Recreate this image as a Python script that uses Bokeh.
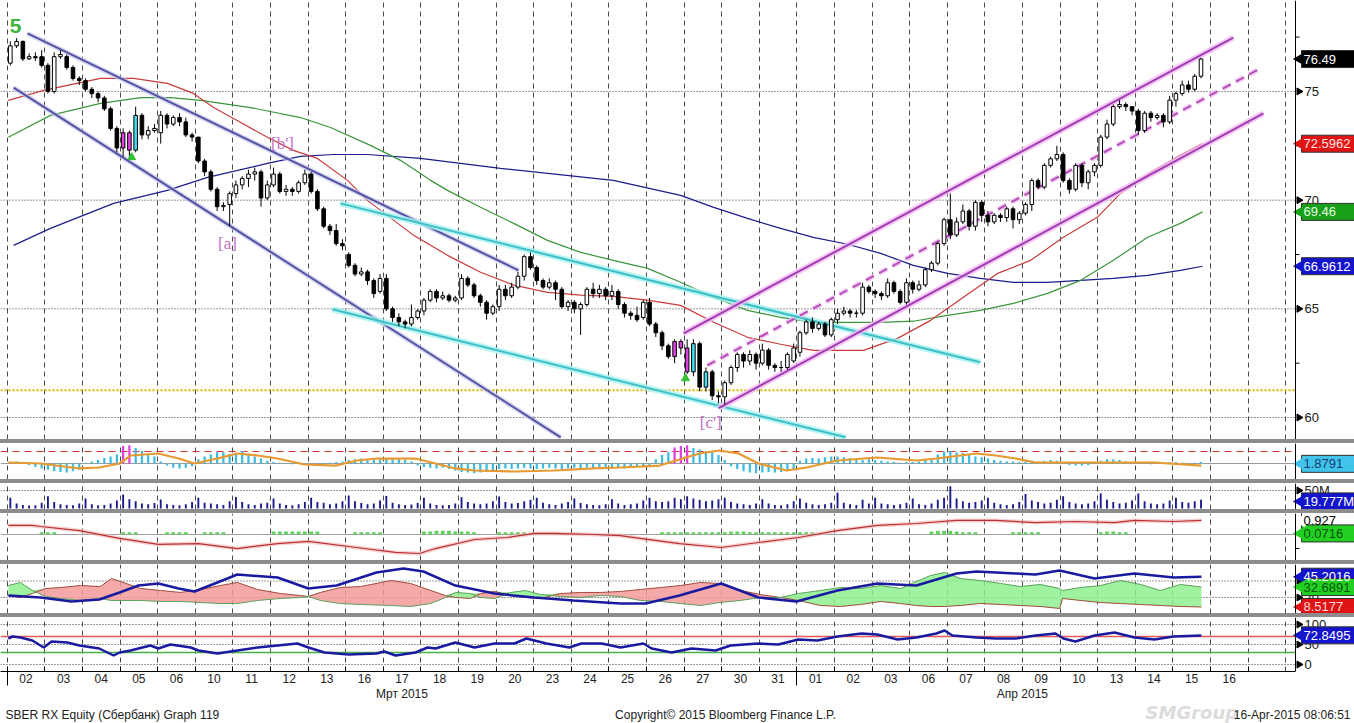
import numpy as np
from bokeh.plotting import figure
from bokeh.models import Range1d, FixedTicker, LinearAxis, Span, Spacer
from bokeh.layouts import column
from bokeh.embed import file_html
from bokeh.resources import INLINE
from bokeh.core.properties import value

FONT = "Liberation Sans"

# ---------------- axis labels ----------------
day_labels = ["02", "03", "04", "05", "06", "10", "11", "12", "13", "16", "17", "18", "19", "20",
              "23", "24", "25", "26", "27", "30", "31",
              "01", "02", "03", "06", "07", "08", "09", "10", "13", "14", "15", "16"]
month_labels = ["Мрт 2015", "Апр 2015"]
month_centers = [10.5, 27.0]
month_bounds = [0.0, 21.0]
price_ticks = [60, 65, 70, 75]
price_tick_labels = ["60", "65", "70", "75"]
price_minor = [62.5, 67.5, 72.5, 77.5]
BARS_PER_DAY = 6

# ---------------- hourly candles (6 bars per trading day) ----------------
opens = [
    76.3, 77.1, 77.3, 76.5, 76.6, 76.6,
    76.2, 75.0, 76.6, 76.6, 76.1, 75.6,
    75.5, 75.1, 74.9, 74.7, 74.2, 73.3,
    72.4, 73.1, 72.3, 73.9, 73.0, 73.2,
    73.1, 73.9, 73.5, 73.8, 73.6, 73.0,
    72.9, 71.8, 71.3, 70.5, 69.7, 69.8,
    70.3, 70.7, 71.0, 71.2, 71.3, 70.1,
    70.7, 71.2, 70.4, 70.5, 70.4, 70.8,
    71.2, 70.4, 69.6, 68.8, 68.6, 68.0,
    67.5, 67.0, 66.6, 66.7, 66.3, 65.8,
    66.4, 65.0, 64.6, 64.4, 64.3, 64.6,
    64.9, 65.4, 65.8, 65.5, 65.6, 65.4,
    65.5, 66.4, 66.1, 65.6, 65.3, 64.8,
    65.1, 65.9, 65.6, 66.0, 66.5, 67.4,
    66.9, 66.3, 66.0, 66.2, 65.9, 65.1,
    65.3, 65.0, 65.2, 65.9, 65.7, 65.9,
    65.6, 65.8, 65.2, 64.8, 64.7, 64.6,
    65.3, 64.3, 63.9, 63.3, 62.8, 63.5,
    63.2, 62.1, 63.4, 61.4, 62.1, 61.0,
    60.95, 61.6, 62.3, 62.9, 62.6, 62.9,
    62.5, 63.1, 62.4, 62.3, 62.3, 62.6,
    63.0, 63.9, 64.4, 64.1, 64.3, 63.8,
    64.5, 64.8, 64.9, 64.8, 64.8, 66.0,
    65.8, 65.7, 65.6, 66.2, 65.8, 65.3,
    66.2, 65.9, 66.1, 66.8, 67.1, 68.0,
    69.1, 68.4, 69.0, 69.5, 68.8, 69.9,
    69.3, 69.0, 69.3, 69.2, 69.6, 69.1,
    69.4, 69.8, 70.9, 70.6, 71.6, 71.9,
    72.1, 70.9, 70.5, 71.6, 70.8, 71.3,
    71.6, 72.9, 73.5, 74.3, 74.4, 74.3,
    74.1, 73.2, 74.0, 73.8, 73.9, 73.6,
    74.6, 74.9, 75.3, 75.1, 75.7,
]
closes = [
    77.1, 77.3, 76.5, 76.6, 76.55, 76.2,
    75.0, 76.6, 76.7, 76.1, 75.6, 75.5,
    75.1, 74.9, 74.7, 74.2, 73.3, 72.4,
    73.1, 72.3, 73.9, 73.0, 73.2, 73.3,
    73.9, 73.5, 73.8, 73.6, 73.0, 72.9,
    71.8, 71.3, 70.5, 69.7, 69.75, 70.3,
    70.7, 71.0, 71.2, 71.3, 70.1, 70.7,
    71.2, 70.4, 70.5, 70.4, 70.8, 71.2,
    70.4, 69.6, 68.8, 68.6, 68.0, 67.9,
    67.0, 66.6, 66.7, 66.3, 65.7, 66.4,
    65.0, 64.6, 64.4, 64.3, 64.6, 64.9,
    65.4, 65.8, 65.5, 65.6, 65.4, 65.5,
    66.4, 66.1, 65.6, 65.3, 64.8, 65.1,
    65.9, 65.6, 66.0, 66.5, 67.4, 66.9,
    66.3, 66.0, 66.2, 65.9, 65.1, 65.3,
    65.0, 65.2, 65.9, 65.7, 65.9, 65.6,
    65.8, 65.2, 64.8, 64.7, 64.5, 65.3,
    64.3, 63.9, 63.3, 62.8, 63.5, 63.2,
    62.1, 63.4, 61.4, 62.1, 61.0, 60.95,
    61.6, 62.3, 62.9, 62.6, 62.9, 62.5,
    63.1, 62.4, 62.3, 62.3, 62.9, 63.2,
    63.9, 64.4, 64.1, 64.3, 63.8, 64.5,
    64.8, 64.9, 64.8, 64.8, 66.0, 65.8,
    65.7, 65.6, 66.2, 65.8, 65.3, 66.2,
    65.9, 66.1, 66.8, 67.1, 68.0, 69.1,
    68.4, 69.0, 69.5, 68.8, 69.9, 69.3,
    69.0, 69.3, 69.2, 69.6, 69.1, 69.4,
    69.8, 70.9, 70.6, 71.6, 71.9, 72.1,
    70.9, 70.5, 71.6, 70.8, 71.3, 71.6,
    72.9, 73.5, 74.3, 74.4, 74.3, 74.1,
    73.2, 74.0, 73.8, 73.9, 73.6, 74.6,
    74.9, 75.3, 75.1, 75.7, 76.49,
]
highs = [
    77.3, 77.45, 77.35, 76.75, 76.8, 76.9,
    76.3, 76.8, 76.9, 76.7, 76.2, 75.7,
    75.6, 75.2, 75.0, 74.8, 74.3, 73.4,
    73.3, 73.2, 74.3, 74.0, 73.4, 73.5,
    74.1, 74.0, 73.9, 74.0, 73.8, 73.1,
    72.9, 71.9, 71.4, 70.6, 69.9, 70.4,
    70.9, 71.1, 71.4, 71.5, 71.4, 70.9,
    71.5, 71.3, 70.7, 70.6, 70.9, 71.4,
    71.3, 70.5, 69.7, 68.9, 68.9, 68.2,
    67.6, 67.1, 66.9, 66.8, 66.4, 66.6,
    66.6, 65.1, 64.8, 64.5, 65.2, 65.0,
    65.5, 65.9, 65.9, 65.8, 65.7, 65.6,
    66.6, 66.5, 66.2, 65.7, 65.4, 65.2,
    66.1, 66.1, 66.2, 66.7, 67.5, 67.6,
    67.0, 66.4, 66.4, 66.3, 66.0, 65.4,
    65.4, 65.3, 66.0, 66.2, 66.1, 66.0,
    66.1, 65.9, 65.3, 64.9, 65.1, 65.4,
    65.5, 64.4, 64.0, 63.4, 63.6, 63.6,
    63.6, 63.6, 63.5, 62.3, 62.2, 61.2,
    61.7, 62.4, 63.0, 63.0, 63.1, 63.0,
    63.4, 63.2, 62.5, 62.6, 63.0, 63.4,
    64.0, 64.5, 64.6, 64.4, 64.4, 64.6,
    65.0, 65.1, 65.0, 64.95, 66.2, 66.1,
    65.9, 65.8, 66.4, 66.3, 65.9, 66.4,
    66.3, 66.3, 66.9, 67.2, 68.1, 69.2,
    70.3, 69.2, 69.8, 69.6, 70.0, 70.0,
    69.5, 69.4, 69.4, 69.7, 69.7, 69.5,
    69.9, 71.0, 71.0, 71.7, 72.0, 72.5,
    72.2, 71.0, 71.7, 71.7, 71.4, 71.7,
    73.0, 73.7, 74.4, 74.6, 74.5, 74.3,
    74.2, 74.1, 74.1, 74.0, 74.0, 74.8,
    75.0, 75.5, 75.5, 75.8, 76.55,
]
lows = [
    76.2, 77.0, 76.4, 76.45, 76.4, 76.1,
    74.9, 74.9, 76.5, 76.0, 75.5, 75.3,
    75.0, 74.7, 74.5, 74.1, 73.2, 72.2,
    72.0, 72.0, 72.2, 72.8, 72.8, 73.1,
    72.6, 73.3, 73.4, 73.4, 72.9, 72.7,
    71.7, 71.1, 70.4, 69.5, 69.5, 68.8,
    70.1, 70.5, 70.6, 70.9, 69.7, 70.0,
    70.6, 70.3, 70.2, 70.2, 70.3, 70.7,
    70.3, 69.5, 68.7, 68.4, 67.9, 67.7,
    66.9, 66.5, 66.5, 66.1, 65.5, 65.7,
    64.9, 64.4, 64.2, 64.1, 64.2, 64.5,
    64.7, 65.3, 65.3, 65.4, 65.3, 65.3,
    65.4, 66.0, 65.5, 65.1, 64.5, 64.7,
    64.9, 65.4, 65.5, 65.9, 66.3, 66.8,
    66.1, 65.9, 65.9, 65.4, 65.0, 64.9,
    64.8, 63.8, 65.1, 65.5, 65.5, 65.4,
    65.4, 65.0, 64.6, 64.5, 64.4, 64.5,
    64.2, 63.7, 63.1, 62.7, 62.5, 62.9,
    62.0, 61.9, 61.2, 61.2, 60.8, 60.65,
    60.6, 61.5, 62.1, 62.3, 62.4, 62.2,
    62.4, 62.2, 62.1, 62.1, 62.2, 62.5,
    62.8, 63.8, 63.9, 64.0, 63.7, 63.7,
    64.3, 64.7, 64.6, 64.6, 64.7, 65.7,
    65.5, 65.4, 65.5, 65.7, 65.2, 65.2,
    65.7, 65.8, 66.0, 66.7, 67.0, 67.9,
    68.2, 68.3, 68.9, 68.6, 68.6, 69.0,
    68.8, 68.9, 69.0, 69.0, 68.7, 68.9,
    69.3, 69.5, 70.5, 70.5, 71.5, 71.8,
    70.8, 70.3, 70.4, 70.6, 70.5, 71.1,
    71.5, 72.8, 73.4, 74.2, 74.1, 73.9,
    73.0, 73.1, 73.6, 73.7, 73.35, 73.5,
    74.3, 74.8, 74.95, 75.0, 75.6,
]
magenta_bars = [18, 19, 106, 107, 108]
cyan_bars = [20, 109, 111]

# ---------------- moving averages (day, price) ----------------
ma_red_x = [0.03, 0.97, 1.95, 2.48, 3.36, 4.26, 4.95, 5.49, 6.02, 6.92, 7.61, 8.25, 9.05, 9.58, 9.93,
            10.81, 11.71, 12.59, 13.47, 14.37, 15.25, 16.12, 17.03, 17.91, 18.79, 19.69, 20.57, 21.44,
            22.77, 23.68, 24.56, 25.43, 26.34, 27.22, 28.09, 28.99, 29.61, 30.41, 31.2, 31.79]
ma_red_y = [74.59, 75.05, 75.41, 75.6, 75.6, 75.37, 74.91, 74.26, 73.76, 72.89, 72.29, 71.92, 70.91, 69.99,
            69.53, 68.38, 67.46, 66.68, 66.09, 65.76, 65.63, 65.57, 65.4, 65.16, 64.38, 63.69, 63.37, 63.09,
            63.09, 63.64, 64.47, 65.53, 66.63, 67.23, 68.29, 69.21, 70.31, 71.28, 72.06, 72.6]
ma_green_x = [0.03, 1.15, 2.48, 3.55, 4.34, 5.15, 6.47, 7.8, 8.6, 9.66, 10.46, 11.26, 11.71, 12.59, 13.47,
              14.37, 15.25, 16.12, 17.03, 17.91, 18.79, 19.69, 20.57, 21.44, 22.35, 23.23, 24.1, 25.01,
              25.88, 26.76, 27.67, 28.55, 29.42, 30.33, 31.2, 31.79]
ma_green_y = [72.89, 73.9, 74.45, 74.72, 74.72, 74.59, 74.26, 73.8, 73.34, 72.52, 71.83, 70.91, 70.45, 69.67,
              68.93, 68.15, 67.6, 67.23, 66.86, 66.22, 65.53, 64.93, 64.61, 64.38, 64.38, 64.38, 64.43,
              64.7, 64.93, 65.25, 65.71, 66.31, 67.23, 68.29, 68.93, 69.46]
ma_blue_x = [0.17, 1.15, 2.83, 4.26, 5.33, 6.92, 7.8, 8.68, 9.58, 10.99, 13.12, 16.12, 17.91, 18.79, 19.69,
             20.57, 21.44, 22.35, 23.23, 24.1, 25.01, 25.88, 26.76, 27.67, 28.55, 29.42, 30.33, 31.2, 31.79]
ma_blue_y = [67.92, 68.7, 69.85, 70.45, 71.05, 71.69, 72.01, 72.1, 72.1, 71.92, 71.46, 70.91, 70.22, 69.67,
             69.16, 68.7, 68.29, 67.97, 67.55, 67.0, 66.63, 66.4, 66.22, 66.22, 66.31, 66.4, 66.54, 66.77,
             66.96]

# ---------------- trend lines (day, price) ----------------
slate_upper = ([0.54, 13.6], [77.67, 66.77])
slate_lower = ([0.17, 14.72], [75.18, 59.09])
cyan_upper = ([8.86, 25.88], [69.85, 62.54])
cyan_lower = ([8.65, 22.3], [64.98, 59.09])
mag_upper = ([17.99, 32.61], [63.87, 77.48])
mag_lower = ([18.92, 33.41], [60.43, 73.99])
mag_mid = ([18.62, 33.33], [62.4, 76.06])
support_level = 61.25

wave_text = ["[a]", "[b']", "[c']"]
wave_x = [5.86, 7.32, 18.71]
wave_y = [68.01, 72.61, 59.75]
signal_x = [3.31, 18.04]
signal_y = [71.97, 61.8]

# ---------------- panel 2: histogram + signal ----------------
macd_hist = [
    0.2, 0.3, 0.1, -0.2, -0.5, -0.7,
    -0.9, -1.1, -1.2, -1.3, -1.1, -0.9,
    0.1, 0.3, 0.5, 0.8, 1.0, 1.3,
    2.5, 2.6, 2.2, 1.8, 1.4, 1.0,
    0.3, -0.3, -0.6, -0.7, -0.6, -0.4,
    0.6, 1.0, 1.3, 1.6, 1.6, 1.4,
    1.5, 1.8, 1.4, 1.0, 0.7, 0.4,
    0.2, 0.1, 0.05, -0.1, 0.1, 0.05,
    -0.2, -0.3, -0.2, 0.1, 0.2, 0.3,
    0.5, 0.6, 0.7, 0.6, 0.7, 0.6,
    0.7, 0.6, 0.7, 0.5, 0.3, -0.3,
    -0.5, -0.6, -0.7, -0.6, -0.8, -1.0,
    -1.2, -1.3, -1.4, -1.3, -1.2, -1.0,
    -0.8, -0.7, -0.8, -0.7, -0.6, -0.7,
    -0.8, -0.7, -0.6, -0.7, -0.8, -0.7,
    -0.6, -0.7, -0.6, -0.8, -0.7, -0.6,
    -0.7, -0.6, -0.7, -0.6, -0.5, -0.4,
    -0.3, 0.6, 1.2, 1.6, 2.3, 2.5,
    2.6, 2.2, 2.0, 1.8, 1.6, 1.2,
    0.5, -0.4, -0.8, -1.1, -1.3, -1.4,
    -1.3, -1.2, -1.3, -1.2, -1.0, -0.8,
    0.4, 0.7, 0.8, 0.7, 0.9, 1.0,
    1.0, 0.9, 0.8, 0.6, 0.5, 0.6,
    0.5, 0.4, 0.3, 0.2, 0.1, 0.2,
    0.2, 0.3, 0.5, 0.8, 1.3, 1.7,
    1.8, 1.6, 1.5, 1.3, 1.0, 0.9,
    0.7, 0.5, 0.4, 0.3, 0.3, 0.2,
    0.3, 0.4, 0.3, 0.4, 0.5, 0.4,
    0.2, -0.2, -0.3, -0.3, -0.2, 0.1,
    0.4, 0.6, 0.6, 0.5, 0.3, 0.1,
    0.1, 0.05, -0.1, 0.05, 0.1, 0.2,
    0.2, 0.1, 0.05, 0.1, 0.2,
]
macd_sig_x = [0.03, 0.89, 1.92, 2.45, 2.99, 3.28, 4.02, 4.56, 4.98, 5.59, 6.12, 6.66, 7.19, 7.91, 8.76, 9.29,
              9.82, 10.86, 11.39, 11.92, 12.43, 13.49, 14.56, 15.59, 16.31, 17.35, 18.41, 18.94, 19.45,
              19.98, 20.73, 21.26, 22.08, 23.14, 24.18, 24.71, 25.78, 26.29, 26.82, 27.35, 28.41, 29.45,
              30.51, 31.76]
macd_sig_y = [0.14, 0.0, -0.71, -0.57, 0.0, 1.14, 1.43, 0.71, 0.0, 0.71, 1.43, 1.14, 0.71, -0.14, -0.29, 0.43,
              0.71, 0.71, 0.0, -0.71, -1.0, -1.14, -1.0, -0.71, -0.57, -0.29, 1.43, 1.86, 1.43, 0.0, -1.0,
              -0.57, 0.43, 0.86, 0.43, 0.71, 1.43, 1.14, 0.71, 0.14, 0.14, 0.14, 0.14, -0.29]
macd_alert = 1.714

# ---------------- panel 3: volume (millions) ----------------
volume = [
    30, 14, 10, 8, 9, 16,
    34, 18, 12, 10, 9, 14,
    28, 12, 9, 10, 14, 22,
    39, 26, 20, 14, 12, 15,
    25, 12, 10, 9, 12, 18,
    30, 16, 14, 12, 10, 20,
    32, 18, 12, 10, 14, 16,
    28, 14, 10, 9, 12, 18,
    30, 18, 16, 12, 14, 20,
    36, 20, 15, 12, 14, 22,
    35, 16, 12, 10, 11, 15,
    30, 14, 10, 9, 10, 14,
    31, 18, 14, 12, 14, 20,
    33, 18, 14, 15, 20, 24,
    30, 16, 12, 10, 14, 18,
    28, 15, 12, 10, 9, 12,
    26, 14, 10, 12, 14, 22,
    30, 20, 18, 20, 30, 26,
    34, 28, 24, 20, 22, 26,
    30, 18, 14, 12, 10, 14,
    26, 14, 10, 9, 12, 20,
    28, 16, 12, 10, 12, 16,
    44, 16, 12, 10, 24, 14,
    30, 14, 12, 10, 12, 16,
    28, 12, 10, 14, 24, 30,
    62, 28, 20, 16, 18, 22,
    30, 16, 12, 10, 12, 18,
    40, 22, 18, 14, 16, 24,
    34, 18, 14, 12, 14, 20,
    42, 24, 18, 14, 16, 22,
    42, 20, 14, 12, 14, 22,
    30, 18, 16, 20, 24,
]

# ---------------- panel 4: oscillator ----------------
osc_x = [0.03, 0.67, 0.89, 1.92, 2.99, 4.02, 5.09, 6.12, 7.19, 8.01, 9.29, 10.33, 10.96, 11.39, 12.43, 13.28,
         14.02, 14.56, 15.59, 16.31, 16.84, 17.88, 18.99, 19.98, 21.04, 22.08, 23.14, 24.18, 25.25, 26.29,
         27.35, 28.41, 29.45, 29.98, 31.02, 31.76]
osc_y = [0.6, 0.6, 0.53, 0.26, -0.26, -0.66, -0.6, -0.93, -0.6, -0.46, -0.86, -1.19, -1.26, -0.93, -0.33, -0.2,
         0.07, 0.07, 0.0, -0.07, -0.26, -0.6, -0.86, -0.53, -0.2, 0.26, 0.6, 0.73, 0.93, 0.93, 0.79, 0.86,
         0.79, 0.93, 0.86, 0.93]
osc_dots = [
    0, 0, 0, 0, 0, 0.15,
    0.15, 0.15, 0, 0, 0, 0,
    0, 0, 0, 0, 0, 0,
    0.15, 0.15, 0.15, 0, 0, 0,
    0, 0.15, 0.15, 0.15, 0.15, 0,
    0, 0.15, 0.15, 0.15, 0.15, 0,
    0, 0, 0, 0, 0, 0,
    0.2, 0.2, 0.2, 0.2, 0.2, 0.2,
    0.2, 0.2, 0, 0, 0, 0,
    0, 0.15, 0.15, 0.15, 0.15, 0.15,
    0, 0, 0, 0, 0, 0,
    0.2, 0.2, 0.25, 0.25, 0.25, 0.2,
    0.2, 0.2, 0.15, 0, 0, 0,
    0.15, 0.15, 0.15, 0.15, 0.15, 0,
    0, 0, 0, 0, 0, 0,
    0, 0, 0, 0, 0, 0,
    0, 0, 0, 0, 0, 0,
    0, 0, 0.15, 0.15, 0.15, 0.15,
    0.15, 0.15, 0.15, 0.15, 0.15, 0.15,
    0.15, 0.2, 0.2, 0.2, 0.15, 0.15,
    0.15, 0.15, 0.15, 0.15, 0.15, 0.15,
    0.15, 0.15, 0.15, 0, 0, 0,
    0, 0, 0, 0, 0, 0,
    0, 0, 0, 0, 0, 0,
    0, 0, 0, 0.2, 0.25, 0.25,
    0.25, 0.2, 0.15, 0.15, 0.15, 0,
    0, 0, 0, 0, 0.15, 0.15,
    0.15, 0.15, 0.15, 0, 0, 0,
    0, 0, 0, 0, 0, 0,
    0.15, 0.2, 0.2, 0.15, 0.15, 0,
    0, 0, 0, 0, 0, 0,
    0, 0, 0, 0, 0,
]

# ---------------- panel 5: DMI ----------------
dmi_x = [0.03, 0.35, 0.67, 1.02, 1.42, 1.95, 2.48, 2.77, 3.01, 3.55, 4.08, 4.61, 5.14, 5.67, 6.12, 6.66,
         7.27, 7.80, 8.01, 8.33, 8.86, 9.40, 10.22, 10.73, 11.26, 11.66, 11.92, 12.32, 12.59, 12.96, 13.39,
         13.78, 14.18, 14.72, 15.25, 15.78, 16.31, 16.84, 17.38, 17.91, 18.44, 18.94, 19.50, 20.03, 20.57,
         21.04, 21.63, 22.16, 22.69, 23.23, 23.76, 24.18, 24.56, 24.93, 25.35, 25.88, 26.42, 26.95, 27.48,
         27.99, 28.07, 28.55, 29.08, 29.61, 30.14, 30.67, 31.20, 31.76]
di_minus = [22.4, 20.0, 24.8, 30.9, 32.1, 34.5, 33.3, 43.0, 39.4, 30.9, 28.5, 26.1, 29.7, 34.5, 38.2, 29.7,
            24.8, 22.4, 21.2, 26.1, 32.1, 33.3, 40.6, 37.0, 28.5, 22.4, 20.0, 18.8, 24.8, 27.3, 22.4, 20.0,
            18.8, 24.8, 26.1, 26.1, 27.3, 29.7, 32.1, 34.5, 38.2, 37.0, 28.5, 23.6, 20.0, 16.4, 10.3, 9.1,
            11.5, 15.2, 12.7, 10.3, 9.1, 9.1, 10.3, 12.7, 11.5, 10.3, 9.1, 6.7, 18.8, 16.4, 13.9, 12.7, 11.5,
            10.3, 9.1, 8.5]
di_plus = [34.5, 38.2, 28.5, 21.2, 18.8, 16.4, 18.8, 16.4, 16.4, 16.4, 15.2, 15.2, 13.9, 12.7, 12.7, 16.4,
           18.8, 20.0, 21.2, 16.4, 12.7, 11.5, 10.3, 9.1, 12.7, 20.0, 26.1, 24.8, 20.0, 18.8, 26.1, 28.5,
           23.6, 21.2, 20.0, 22.4, 21.2, 16.4, 15.2, 12.7, 10.3, 13.9, 16.4, 20.0, 20.0, 24.8, 28.5, 32.1,
           30.9, 34.5, 30.9, 39.4, 46.7, 50.3, 43.0, 40.6, 37.0, 33.3, 35.8, 30.9, 28.5, 32.1, 34.5, 40.6,
           35.8, 28.5, 35.8, 32.7]
adx_x = [0.03, 0.89, 1.71, 2.45, 2.99, 3.49, 4.02, 4.56, 4.98, 5.59, 6.12, 7.19, 8.01, 8.76, 9.82, 10.54,
         11.07, 11.92, 12.96, 14.02, 15.06, 16.31, 16.98, 17.88, 18.99, 19.98, 20.99, 22.08, 23.14, 24.18,
         25.25, 25.78, 26.82, 27.35, 27.99, 28.92, 29.98, 31.02, 31.76]
adx_y = [22.4, 20.0, 15.2, 17.6, 26.1, 34.5, 37.0, 30.9, 27.3, 38.2, 47.9, 44.2, 30.9, 34.5, 50.3, 55.2, 51.5,
         34.5, 24.8, 20.0, 16.4, 12.7, 12.7, 22.4, 37.0, 20.0, 15.2, 28.5, 37.0, 34.5, 49.1, 51.5, 49.1, 47.9,
         52.7, 43.0, 49.1, 44.2, 45.2]

# ---------------- panel 6: RSI ----------------
rsi_x = [0.03, 0.14, 0.35, 0.67, 0.97, 1.18, 1.60, 1.92, 2.45, 2.83, 2.99, 3.28, 3.81, 4.02, 4.34, 4.88, 5.09,
         5.59, 6.12, 6.66, 7.19, 7.72, 8.01, 8.44, 9.08, 9.82, 10.03, 10.33, 10.86, 11.18, 11.39, 11.92,
         12.43, 12.96, 13.49, 13.81, 14.34, 14.95, 15.27, 15.81, 16.31, 16.92, 17.14, 17.67, 18.20, 18.84,
         19.24, 19.98, 20.51, 21.04, 21.55, 22.08, 22.72, 23.14, 23.68, 24.18, 24.71, 24.93, 25.14, 25.78,
         26.29, 26.82, 27.35, 27.88, 28.09, 28.41, 28.92, 29.45, 29.98, 30.51, 31.02, 31.76]
rsi_y = [65, 70, 67.5, 60, 42.5, 57.5, 55, 47.5, 40, 22.5, 30, 35, 47.5, 40, 50, 42.5, 35, 27.5, 35, 42.5, 47.5,
         52.5, 42.5, 30, 25, 27.5, 32.5, 22.5, 30, 42.5, 40, 55, 42.5, 52.5, 52.5, 65, 52.5, 42.5, 52.5, 52.5,
         42.5, 52.5, 40, 30, 40, 35, 47.5, 52.5, 50, 62.5, 60, 70, 77.5, 75, 62.5, 67.5, 77.5, 85, 72.5, 67.5,
         65, 65, 72.5, 77.5, 65, 57.5, 72.5, 80, 67.5, 62.5, 70, 72.8]

# ---------------- last-value tags ----------------
main_tag_vals = [76.49, 72.5962, 69.46, 66.9612]
main_tag_text = ["76.49", "72.5962", "69.46", "66.9612"]
main_tag_bg = ["#000000", "#e01414", "#18a018", "#1414cc"]
main_tag_fg = ["#ffffff", "#ffe4e4", "#e4ffe4", "#ffffff"]

footer_left = "SBER RX Equity (Сбербанк) Graph 119"
footer_mid = "Copyright© 2015 Bloomberg Finance L.P."
footer_right = "16-Apr-2015 08:06:51"
watermark = "SMGroup"

# ================= layout =================
PAGE_W = 1354
PX = 1 / 37.6                      # day units per screen pixel
xr = Range1d(-6.7 * PX, (PAGE_W - 6.7) * PX)
D_AXIS = (1295 - 6.7) * PX         # position of the right price axis
n_days = len(day_labels)
grid_bounds = [float(d) for d in range(n_days + 2)]
day_centers = [d + 0.5 for d in range(n_days)]

n = len(closes)
bx = (np.arange(n) + 0.5) / BARS_PER_DAY


def panel(frame_h, y0, y1, bottom=0):
    p = figure(frame_width=PAGE_W, frame_height=frame_h, x_range=xr, y_range=Range1d(y0, y1),
               output_backend="svg", toolbar_location=None, y_axis_location=None,
               x_axis_location=None, min_border_left=0, min_border_right=0,
               min_border_top=0, min_border_bottom=bottom)
    p.outline_line_color = None
    p.background_fill_color = "white"
    p.border_fill_color = "white"
    p.xgrid.ticker = FixedTicker(ticks=grid_bounds)
    p.xgrid.grid_line_color = "#4a4a4a"
    p.xgrid.grid_line_dash = "5 4"
    p.xgrid.grid_line_width = 1
    p.ygrid.visible = False
    p.add_layout(Span(location=D_AXIS, dimension="height", line_color="black", line_width=1))
    return p


def hlines(p, ys, color="#333333", dash="1 2", width=1):
    k = len(ys)
    p.segment(x0=[xr.start] * k, y0=ys, x1=[D_AXIS] * k, y1=ys, line_color=color,
              line_dash=dash, line_width=width)


def yticks(p, ticks, labels, minor=()):
    k = len(ticks)
    if k:
        p.scatter([D_AXIS + 3.5 * PX] * k, ticks, marker="triangle", angle=-np.pi / 2, size=7,
                  color="black")
        p.text([D_AXIS] * k, ticks, text=labels, x_offset=9, text_baseline="middle",
               text_font=value(FONT), text_font_size="13px", text_color="#202020")
    if len(minor):
        m = len(minor)
        p.segment(x0=[D_AXIS] * m, y0=minor, x1=[D_AXIS + 4 * PX] * m, y1=minor, line_color="black")


def tags(p, ys, texts, bgs, fgs, borders=None):
    k = len(ys)
    borders = borders or ["#303030"] * k
    p.rect(x=[D_AXIS + 32.5 * PX] * k, y=ys, width=53, height=17, width_units="screen",
           height_units="screen", fill_color=bgs, line_color=borders, line_width=1)
    p.scatter([D_AXIS + 6 * PX] * k, ys, marker="triangle", angle=np.pi / 2, size=15,
              fill_color=bgs, line_color=None)
    p.text([D_AXIS] * k, ys, text=texts, x_offset=8, text_baseline="middle",
           text_font=value(FONT), text_font_size="13px", text_color=fgs)


def sep():
    return Spacer(width=PAGE_W, height=4, styles={"background-color": "#8c8c8c"})


# ---------- main price panel ----------
pm = panel(439, 58.989, 79.184)
hlines(pm, price_ticks)
hlines(pm, [support_level], color="#d4b400", dash="2 2", width=2)
yticks(pm, price_ticks, price_tick_labels, price_minor)

pm.line(ma_blue_x, ma_blue_y, line_color="#1c1c8c", line_width=1.2)
pm.line(ma_green_x, ma_green_y, line_color="#3c963c", line_width=1.2)
pm.line(ma_red_x, ma_red_y, line_color="#c83c3c", line_width=1.2)

for xs, ys in (slate_upper, slate_lower):
    pm.line(xs, ys, line_color="#c8c8ec", line_width=5, line_alpha=0.7)
    pm.line(xs, ys, line_color="#5454a4", line_width=2)
for xs, ys in (cyan_upper, cyan_lower):
    pm.line(xs, ys, line_color="#a8f0f0", line_width=6, line_alpha=0.8)
    pm.line(xs, ys, line_color="#3cc0c4", line_width=2)
for xs, ys in (mag_upper, mag_lower):
    pm.line(xs, ys, line_color="#f2bcf2", line_width=6, line_alpha=0.8)
    pm.line(xs, ys, line_color="#a03cb4", line_width=2)
pm.line(*mag_mid, line_color="#f2bcf2", line_width=5, line_alpha=0.8, line_dash="9 6")
pm.line(*mag_mid, line_color="#b450b8", line_width=2, line_dash="9 6")

o = np.array(opens); c = np.array(closes)
fills = ["white" if cc >= oo else "black" for oo, cc in zip(o, c)]
for i in magenta_bars:
    fills[i] = "#e040e0"
for i in cyan_bars:
    fills[i] = "#40e0f0"
pm.segment(bx, highs, bx, lows, line_color="black", line_width=1)
pm.vbar(x=bx, width=0.095, top=np.maximum(o, c), bottom=np.minimum(o, c),
        fill_color=fills, line_color="black", line_width=1)

pm.text(wave_x, wave_y, text=wave_text, text_font=value("Liberation Serif"), text_font_size="17px",
        text_color="#c070c8", text_align="center", text_baseline="middle")
pm.text([0.22], [78.03], text=["5"], text_font=value(FONT), text_font_size="21px",
        text_font_style="bold", text_color="#3cb43c", text_align="center", text_baseline="middle")
pm.scatter(signal_x, signal_y, marker="triangle", size=8, color="#30c030")

tags(pm, main_tag_vals, main_tag_text, main_tag_bg, main_tag_fg)

# ---------- panel 2 ----------
p2 = panel(36, -2.286, 2.857)
hlines(p2, [0], color="#9a9a9a", dash="solid")
hlines(p2, [macd_alert], color="#d03030", dash="7 5")
hcol = ["#3cbce0"] * n
for i in magenta_bars:
    hcol[i] = "#e040e0"
p2.vbar(x=bx, width=0.06, top=macd_hist, bottom=0, fill_color=hcol, line_color=None)
p2.line(macd_sig_x, macd_sig_y, line_color="#e89a30", line_width=2.2)
tags(p2, [-0.05], ["1.8791"], ["#40c4ec"], ["#1a3c70"])

# ---------- panel 3 ----------
p3 = panel(26, -2.78, 69.44)
hlines(p3, [50])
yticks(p3, [50], ["50M"])
p3.vbar(x=bx, width=0.05, top=volume, bottom=0, fill_color="#1a1a8c", line_color=None)
tags(p3, [19.777], ["19.777M"], ["#1414cc"], ["#ffffff"])

# ---------- panel 4 ----------
p4 = panel(47, -1.722, 1.391)
hlines(p4, [0], color="#a0a0a0", dash="solid")
yticks(p4, [], [], [-0.93])
p4.vbar(x=bx, width=0.1, top=osc_dots, bottom=0, fill_color="#60d060", line_color=None)
p4.line(osc_x, osc_y, line_color="#f4b4b4", line_width=4, line_alpha=0.6)
p4.line(osc_x, osc_y, line_color="#b83030", line_width=1.2)
tags(p4, [0.927, 0.0716], ["0.927", "0.0716"], ["#ffffff", "#22d022"], ["#000000", "#0c500c"],
     borders=["#000000", "#303030"])

# ---------- panel 5 ----------
p5 = panel(49, 0.606, 60.0)
hlines(p5, [20, 40])
yticks(p5, [20, 40], ["20", "40"])
dm = np.array(di_minus); dp = np.array(di_plus)
p5.varea(x=dmi_x, y1=dp, y2=np.maximum(dm, dp), fill_color="#f49a9a", fill_alpha=0.85)
p5.varea(x=dmi_x, y1=dm, y2=np.maximum(dm, dp), fill_color="#8ef08e", fill_alpha=0.85)
p5.line(dmi_x, di_minus, line_color="#a04a3a", line_width=1)
p5.line(dmi_x, di_plus, line_color="#5aa05a", line_width=1)
p5.line(adx_x, adx_y, line_color="#1a1aa0", line_width=2.5)
tags(p5, [45.2016, 32.6891, 8.5177], ["45.2016", "32.6891", "8.5177"],
     ["#1414cc", "#22d022", "#e01414"], ["#ffffff", "#0c500c", "#ffd8d8"])

# ---------- panel 6 ----------
p6 = panel(54, -17.5, 117.5, bottom=32)
hlines(p6, [0, 50, 100])
hlines(p6, [70], color="#e05a5a", dash="solid", width=1.5)
hlines(p6, [30], color="#48b048", dash="solid", width=1.5)
yticks(p6, [0, 50, 100], ["0", "50", "100"])
p6.line(rsi_x, rsi_y, line_color="#1a1aa0", line_width=2.5)
tags(p6, [72.8495], ["72.8495"], ["#1414cc"], ["#ffffff"])

day_axis = LinearAxis(ticker=FixedTicker(ticks=day_centers, minor_ticks=grid_bounds[:n_days + 1]),
                      major_label_overrides={c_: l_ for c_, l_ in zip(day_centers, day_labels)},
                      bounds=(xr.start, D_AXIS))
day_axis.axis_line_color = "black"
day_axis.major_tick_in = 0
day_axis.major_tick_out = 0
day_axis.minor_tick_in = 5
day_axis.minor_tick_out = 0
day_axis.minor_tick_line_color = "black"
day_axis.major_label_standoff = 2
day_axis.major_label_text_font = FONT
day_axis.major_label_text_font_size = "12px"
day_axis.major_label_text_color = "#222222"
p6.add_layout(day_axis, "below")

month_axis = LinearAxis(ticker=FixedTicker(ticks=month_centers, minor_ticks=month_bounds),
                        major_label_overrides={c_: l_ for c_, l_ in zip(month_centers, month_labels)})
month_axis.axis_line_color = None
month_axis.major_tick_in = 0
month_axis.major_tick_out = 0
month_axis.minor_tick_in = 17
month_axis.minor_tick_out = 0
month_axis.minor_tick_line_color = "black"
month_axis.major_label_standoff = 1
month_axis.major_label_text_font = FONT
month_axis.major_label_text_font_size = "12px"
month_axis.major_label_text_color = "#222222"
p6.add_layout(month_axis, "below")

# ---------- footer ----------
pf = figure(frame_width=PAGE_W, frame_height=20, x_range=Range1d(0, PAGE_W), y_range=Range1d(0, 20),
            output_backend="svg", toolbar_location=None, x_axis_location=None, y_axis_location=None,
            min_border_left=0, min_border_right=0, min_border_top=0, min_border_bottom=0)
pf.outline_line_color = None
pf.grid.visible = False
pf.text([1145], [1], text=[watermark], text_font=value("DejaVu Sans"), text_font_size="18px",
        text_font_style="bold italic", text_color="#dcdcdc", text_baseline="bottom")
pf.text([5], [9], text=[footer_left], text_font=value(FONT), text_font_size="12px",
        text_color="#222222", text_baseline="middle", text_align="left")
pf.text([725], [9], text=[footer_mid], text_font=value(FONT), text_font_size="12px",
        text_color="#222222", text_baseline="middle", text_align="center")
pf.text([1350], [9], text=[footer_right], text_font=value(FONT), text_font_size="12px",
        text_color="#222222", text_baseline="middle", text_align="right")

layout = column(pm, sep(), p2, sep(), p3, sep(), p4, sep(), p5, sep(), p6, pf, spacing=0)
open("out.html", "w").write(file_html(layout, INLINE))
